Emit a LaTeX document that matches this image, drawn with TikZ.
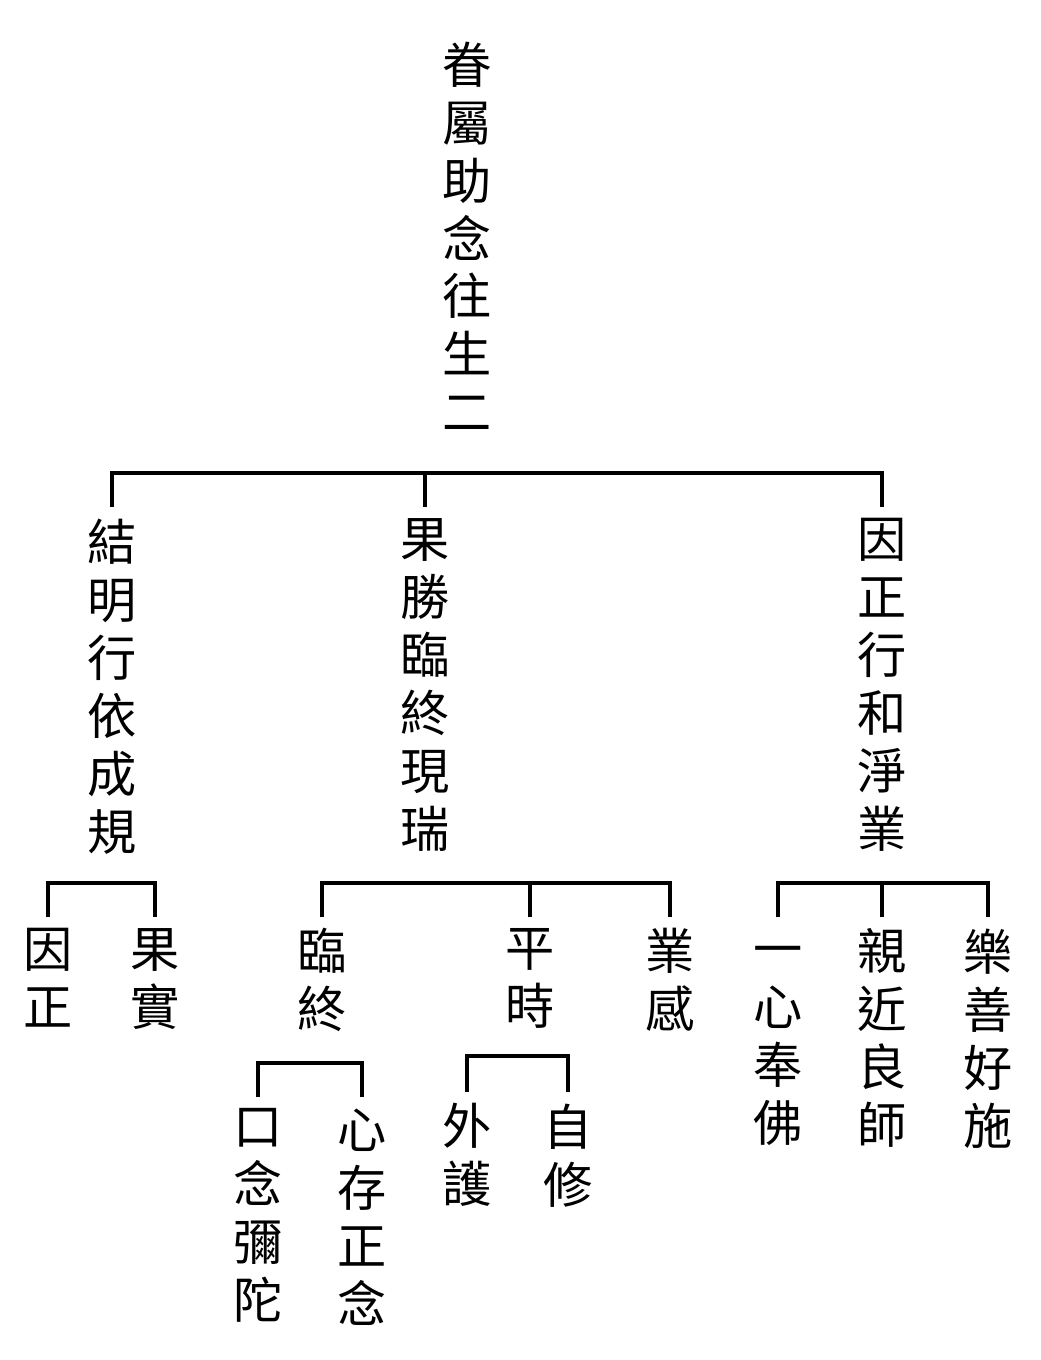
\documentclass[tikz,border=0pt]{standalone}
\usepackage{fontspec}
\newfontfamily\cjk{Noto Sans CJK TC}

\begin{document}
\begin{tikzpicture}[x=0.1mm,y=-0.1mm,line width=0.9pt,
  every node/.style={font=\cjk\fontsize{14}{16.5}\selectfont,align=center,
    anchor=north,inner xsep=0pt,inner ysep=1mm}]
\useasboundingbox (0,0) rectangle (1040,1360);
\node (T) at (467,30) {眷\\屬\\助\\念\\往\\生\\二};
\node (A) at (112,507) {結\\明\\行\\依\\成\\規};
\node (B) at (425,507) {果\\勝\\臨\\終\\現\\瑞};
\node (C) at (882,507) {因\\正\\行\\和\\淨\\業};
\node (A1) at (48,917) {因\\正};
\node (A2) at (155,917) {果\\實};
\node (B1) at (322,917) {臨\\終};
\node (B2) at (530,917) {平\\時};
\node (B3) at (670,917) {業\\感};
\node (C1) at (778,917) {\vphantom{因}一\\心\\奉\\佛};
\node (C2) at (882,917) {親\\近\\良\\師};
\node (C3) at (988,917) {樂\\善\\好\\施};
\node (D1) at (258,1097) {口\\念\\彌\\陀};
\node (D2) at (362,1097) {心\\存\\正\\念};
\node (E1) at (467,1092) {外\\護};
\node (E2) at (568,1092) {自\\修};
\draw (A.north) -- ++(0,-34) -| (C.north);
\draw (B.north) -- ++(0,-34);
\draw (A1.north) -- ++(0,-34) -| (A2.north);
\draw (B1.north) -- ++(0,-34) -| (B3.north);
\draw (B2.north) -- ++(0,-34);
\draw (C1.north) -- ++(0,-34) -| (C3.north);
\draw (C2.north) -- ++(0,-34);
\draw (D1.north) -- ++(0,-34) -| (D2.north);
\draw (E1.north) -- ++(0,-36) -| (E2.north);
\end{tikzpicture}
\end{document}
